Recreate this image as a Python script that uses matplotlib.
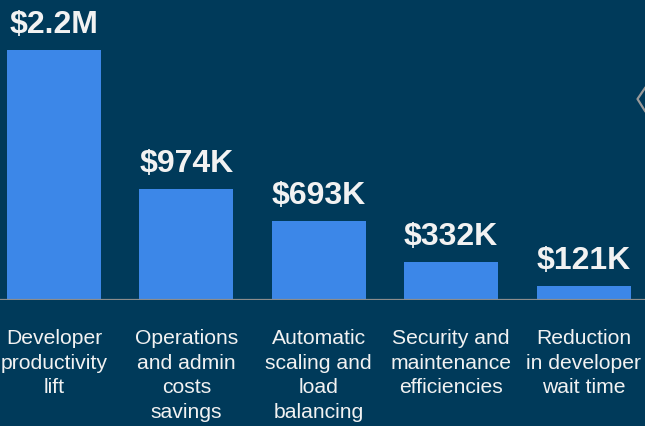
import matplotlib.pyplot as plt
from matplotlib.lines import Line2D

# Data
categories = [
    "Developer\nproductivity\nlift",
    "Operations\nand admin\ncosts\nsavings",
    "Automatic\nscaling and\nload\nbalancing",
    "Security and\nmaintenance\nefficiencies",
    "Reduction\nin developer\nwait time",
]
values = [2200000, 974000, 693000, 332000, 121000]
value_labels = ["$2.2M", "$974K", "$693K", "$332K", "$121K"]

BG = "#003A5A"
BAR = "#3C87E8"
GRID = "#8C8C8C"
TEXT = "#F2F2F2"

plt.rcParams["font.family"] = ["Liberation Sans", "DejaVu Sans"]

fig = plt.figure(figsize=(6.45, 4.26), dpi=100)
fig.patch.set_facecolor(BG)
ax = fig.add_axes([0, (426 - 300) / 426, 1, 300 / 426])
ax.set_facecolor(BG)

x = list(range(len(categories)))
ax.bar(x, values, width=0.71, color=BAR, zorder=2)
ax.set_xlim(-0.408, 4.464)
ax.set_ylim(0, 2.64e6)

for xi, v, lab in zip(x, values, value_labels):
    ax.annotate(lab, (xi, v), xytext=(0, 12.5), textcoords="offset points",
                ha="center", va="baseline", color=TEXT, fontsize=23,
                fontweight="bold")
    ax.annotate(categories[xi], (xi, 0), xycoords=("data", "axes fraction"),
                xytext=(0, -21), textcoords="offset points",
                ha="center", va="top", color=TEXT, fontsize=15.2,
                linespacing=1.37, annotation_clip=False)

ax.axhline(0, color=GRID, linewidth=1.6, zorder=3)
for s in ax.spines.values():
    s.set_visible(False)
ax.set_xticks([])
ax.set_yticks([])

# small chevron at the right edge
W, H = 645.0, 426.0
chev = Line2D([645 / W, 637.5 / W, 645 / W],
              [1 - 88 / H, 1 - 99 / H, 1 - 111 / H],
              transform=fig.transFigure, color="#9A9A9A", linewidth=1.6)
fig.add_artist(chev)

fig.savefig("out.png", dpi=100, facecolor=BG)
